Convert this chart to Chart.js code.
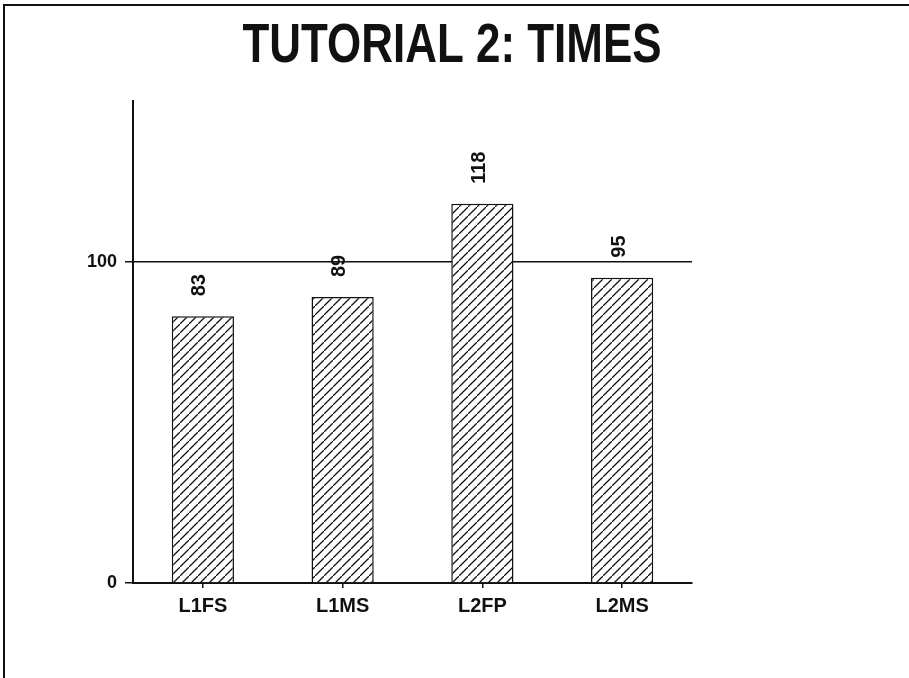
<!DOCTYPE html>
<html>
<head>
<meta charset="utf-8">
<script src="https://cdn.jsdelivr.net/npm/chart.js@4.4.1/dist/chart.umd.min.js"></script>
<style>
  html, body { margin: 0; padding: 0; background: #fff; }
  #wrap { position: relative; width: 909px; height: 678px; }
  #frame { position: absolute; left: 3px; top: 4px; right: -2px; bottom: -2px;
           border-top: 2px solid #111; border-left: 2px solid #111; pointer-events: none; }
  canvas { position: absolute; left: 0; top: 0; }
</style>
</head>
<body>
<div id="wrap">
  <canvas id="c" width="909" height="678"></canvas>
  <div id="frame"></div>
</div>
<script>
// Mean times per group
const categories = ['L1FS', 'L1MS', 'L2FP', 'L2MS'];
const times = [83, 89, 118, 95];
const yTickValues = [0, 100];
const yMax = 150;
const titleText = 'TUTORIAL 2: TIMES';

// Diagonal "/" hatch fill for the bars
function hatch() {
  const s = 9;
  const p = document.createElement('canvas');
  p.width = s; p.height = s;
  const g = p.getContext('2d');
  g.fillStyle = '#fff';
  g.fillRect(0, 0, s, s);
  g.strokeStyle = '#111';
  g.lineWidth = 1.3;
  g.beginPath();
  g.moveTo(-1, s + 1); g.lineTo(s + 1, -1);
  g.moveTo(-2, 1); g.lineTo(1, -2);
  g.moveTo(s - 1, s + 2); g.lineTo(s + 2, s - 1);
  g.stroke();
  return g.createPattern(p, 'repeat');
}

// Condensed bold heading across the top
const heading = {
  id: 'heading',
  afterDraw(chart) {
    const ctx = chart.ctx;
    ctx.save();
    ctx.fillStyle = '#111';
    ctx.font = 'bold 55px "Liberation Sans", Arial, sans-serif';
    ctx.textAlign = 'center';
    ctx.textBaseline = 'alphabetic';
    const w = ctx.measureText(titleText).width;
    const sx = 419 / w;
    ctx.translate(452, 62);
    ctx.scale(sx, 1);
    ctx.fillText(titleText, 0, 0);
    ctx.restore();
  }
};

// Rotated value labels above each bar
const valueLabels = {
  id: 'valueLabels',
  afterDatasetsDraw(chart) {
    const ctx = chart.ctx;
    const meta = chart.getDatasetMeta(0);
    ctx.save();
    ctx.fillStyle = '#111';
    ctx.font = 'bold 20px "Liberation Sans", Arial, sans-serif';
    ctx.textAlign = 'left';
    ctx.textBaseline = 'middle';
    meta.data.forEach((bar, i) => {
      ctx.save();
      ctx.translate(bar.x - 3, bar.y - 20);
      ctx.rotate(-Math.PI / 2);
      ctx.fillText(String(chart.data.datasets[0].data[i]), 0, 0);
      ctx.restore();
    });
    ctx.restore();
  }
};

new Chart(document.getElementById('c'), {
  type: 'bar',
  data: {
    labels: categories,
    datasets: [{
      data: times,
      backgroundColor: hatch(),
      borderColor: '#111',
      borderWidth: 1.5,
      categoryPercentage: 1,
      barPercentage: 0.445
    }]
  },
  options: {
    responsive: false,
    animation: false,
    layout: { padding: { top: 101, left: 0, right: 0, bottom: 0 } },
    plugins: {
      legend: { display: false },
      tooltip: { enabled: false },
      title: { display: false }
    },
    scales: {
      x: {
        offset: true,
        grid: { display: true, offset: false, drawOnChartArea: false, drawTicks: true, tickLength: 5, color: '#111', lineWidth: 1.5 },
        border: { display: true, color: '#111', width: 2 },
        ticks: { color: '#111', padding: 6, font: { family: '"Liberation Sans", Arial, sans-serif', size: 20, weight: 'bold' } },
        afterFit(s) { s.height = 95; }
      },
      y: {
        min: 0,
        max: yMax,
        afterBuildTicks(s) { s.ticks = yTickValues.map(v => ({ value: v })); },
        grid: { display: true, drawTicks: true, tickLength: 8, color: '#111', lineWidth: 1.5 },
        border: { display: true, color: '#111', width: 2 },
        ticks: { color: '#111', padding: 8, font: { family: '"Liberation Sans", Arial, sans-serif', size: 18, weight: 'bold' } },
        afterFit(s) { s.width = 133; }
      },
      r: {
        type: 'linear',
        position: 'right',
        display: true,
        grid: { display: false, drawTicks: false },
        border: { display: false },
        ticks: { display: false },
        afterFit(s) { s.width = 217; }
      }
    }
  },
  plugins: [valueLabels, heading]
});
</script>
</body>
</html>
